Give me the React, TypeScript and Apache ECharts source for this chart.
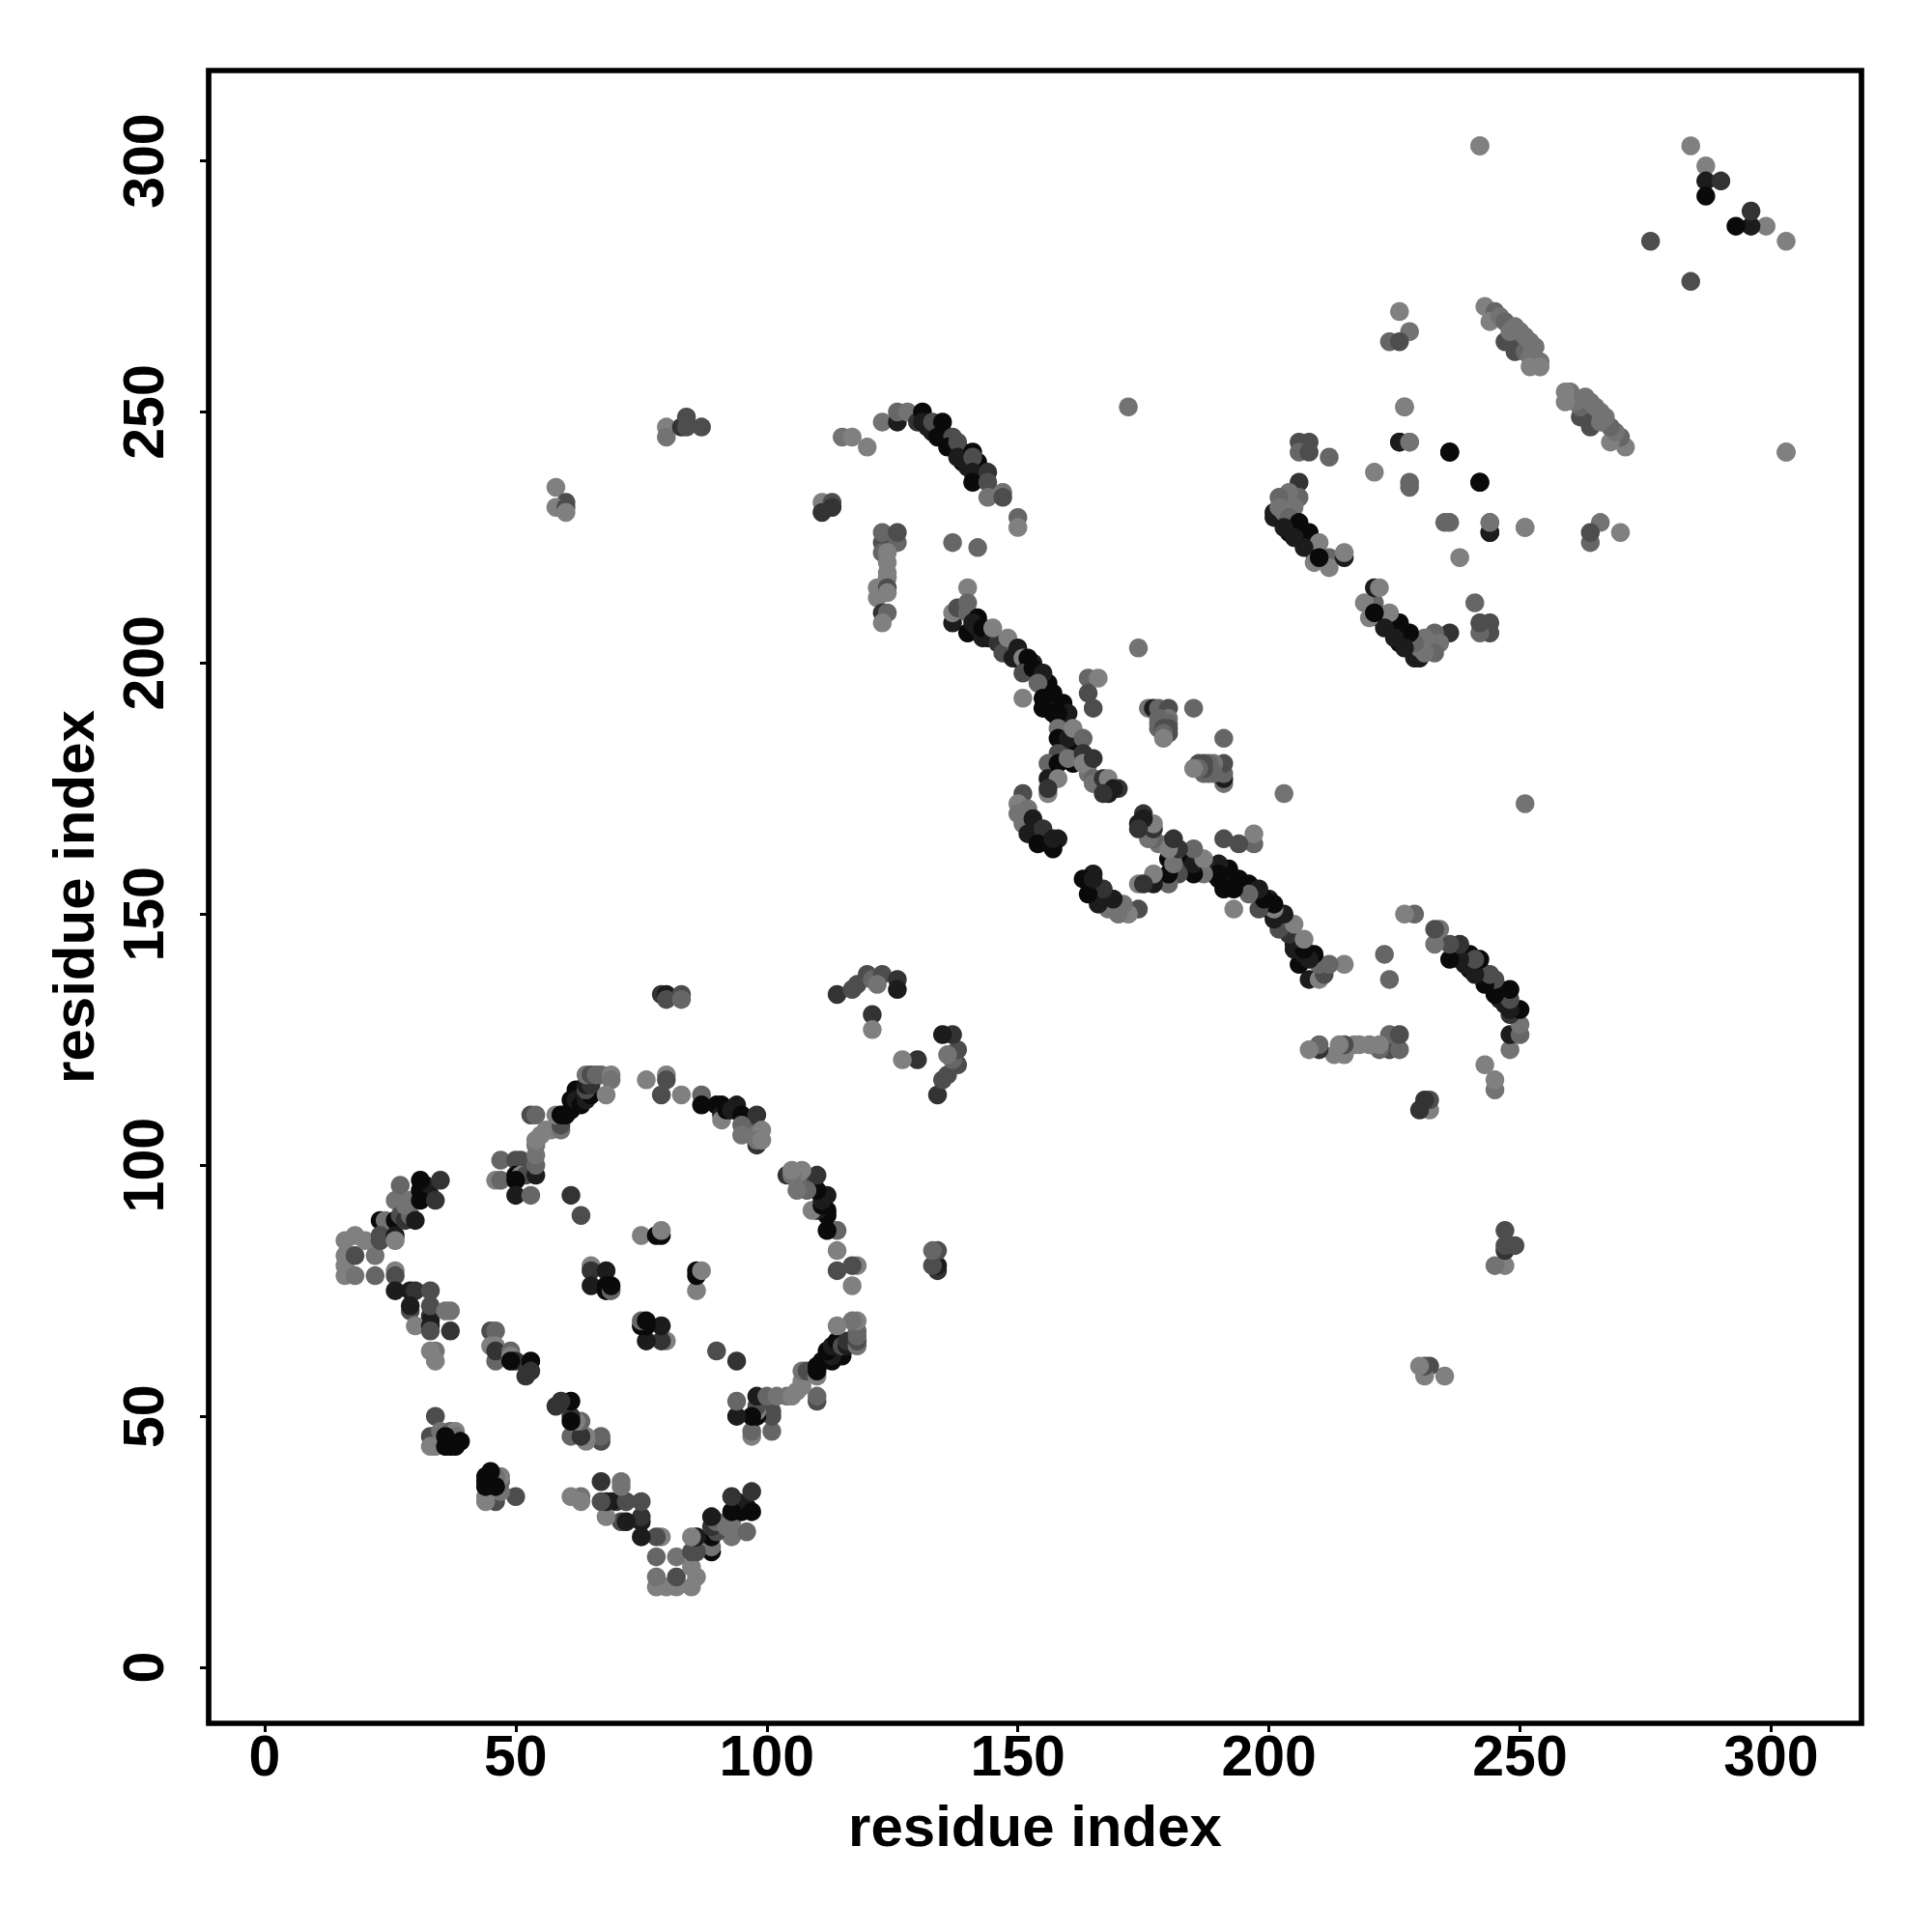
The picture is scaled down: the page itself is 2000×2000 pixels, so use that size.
import React, { useEffect, useRef } from "react";
import * as echarts from "echarts";

// [residue i, residue j, shade level]; the map is symmetric, each contact is listed once with i < j.
type Contact = [number, number, number];

const tickValues = [0, 50, 100, 150, 200, 250, 300];
const axisTitle = "residue index";
const shadeLevels = ["#0a0a0a", "#1c1c1c", "#333333", "#4d4d4d", "#666666", "#737373", "#808080"];

const ringLowerLeft: Contact[] = [
  [16,85,6],[16,82,6],[16,80,6],[16,78,6],[18,86,6],[18,82,3],[18,78,5],[20,85,6],[22,82,5],[22,78,4],
  [23,85,3],[23,89,0],[24,89,5],[23,86,3],[26,89,0],[26,86,1],[26,85,6],[26,93,5],[27,93,5],[27,90,3],[27,96,4],[29,93,5],
  [28,89,2],[29,90,4],[28,92,5],[32,96,1],[31,95,0],[33,94,1],
  [30,89,1],[31,93,0],[31,97,0],[34,93,2],[35,97,2],[26,79,6],[26,78,3],[26,75,1],[29,75,1],[30,75,2],[33,75,3],
  [29,71,3],[33,70,2],[33,69,1],
  [29,72,1],[33,72,3],[36,71,5],[37,71,5],[30,68,6],[33,68,1],[33,67,3],[37,67,2],[34,63,5],[33,63,6],[34,61,6],
  [34,50,3],[33,46,3],[33,44,6],[35,47,5],[37,47,4],[38,47,6],[34,44,6],[36,44,0],[38,44,0],[38,46,5],[37,44,0],[36,46,0],[39,45,0],
];
const ringMiddleBand: Contact[] = [
  [45,67,3],[46,67,4],[45,64,6],[46,64,6],[46,61,4],[46,63,2],[49,63,4],[49,62,6],[50,61,2],[49,61,0],[53,61,0],[53,59,2],[52,58,2],
];
const ringUpperLeft: Contact[] = [
  [46,97,6],[47,97,4],[47,101,4],[50,101,3],[51,101,3],[50,98,0],[51,98,6],[52,98,3],[50,97,0],[50,94,1],[53,94,4],[54,98,1],
  [54,100,4],[54,102,5],[54,104,5],[54,105,6],[53,110,3],[54,110,4],[55,106,6],[56,107,6],[57,107,6],[59,107,5],[59,108,3],
  [58,110,6],[59,110,0],[60,110,0],[61,111,0],[61,113,0],[62,115,0],[62,113,1],[63,112,0],[64,113,1],[64,114,1],[65,114,0],
  [64,115,3],[64,116,1],[65,116,2],[64,118,5],[65,118,3],[66,118,4],[67,118,4],[69,118,6],[69,117,5],[68,114,6],
];
const ringTop: Contact[] = [
  [76,117,6],[80,118,6],[80,117,3],[79,114,3],[83,114,6],[87,114,4],[87,112,0],[90,112,0],[91,112,0],[91,110,1],[91,109,6],
  [92,111,0],[93,111,1],[96,109,1],[97,108,3],[97,106,5],
  [94,112,1],[95,110,0],[98,110,2],[95,108,4],[95,106,5],[99,107,6],[98,104,2],[98,105,5],[99,105,6],
];
const ringInner: Contact[] = [
  [61,94,2],[63,90,3],[65,80,6],[65,79,2],[65,76,1],[68,79,1],[68,76,0],[68,75,0],[69,75,4],[69,76,0],
  [75,86,6],[78,86,0],[79,86,0],[79,87,6],
];
const farContacts: Contact[] = [
  [58,235,6],[60,232,3],[58,231,6],[60,231,3],[60,230,6],[80,247,6],[80,245,5],[83,247,2],[84,249,3],[84,247,3],[87,247,3],
  [79,134,2],[80,134,1],[80,133,3],[83,134,3],[83,133,4],
  [114,134,2],[117,135,3],[118,136,3],[120,138,3],[121,137,4],[123,138,3],[122,136,5],[126,137,2],[126,135,1],[121,130,2],[121,127,6],
  [111,232,6],[111,230,2],[113,232,3],[113,231,2],
];
const arcContacts: Contact[] = [
  [115,245,5],[117,245,6],[120,243,6],[123,248,5],[126,248,1],[126,250,4],[128,250,5],[130,248,2],[131,250,0],[131,248,1],
  [132,247,1],[133,246,1],[135,246,0],[136,245,2],[137,243,1],[138,242,0],[139,242,1],[139,240,0],[140,239,1],[142,238,2],[143,237,1],[142,240,0],
  [133,248,3],[135,248,0],[134,245,0],[137,245,3],[136,243,0],[138,244,3],[138,241,1],[141,242,0],[141,241,3],[141,238,1],
  [141,236,0],[144,238,2],[144,236,3],[144,233,5],[147,234,5],[147,233,3],[150,229,4],[150,227,6],[137,224,4],[142,223,4],
];
const columnContacts: Contact[] = [
  [123,224,3],[126,224,4],[123,222,4],[124,222,6],[124,220,6],[124,218,6],[124,217,6],[122,215,6],[122,213,6],[124,215,3],
  [124,214,6],[123,210,2],[124,210,4],[123,208,6],[123,226,4],[126,226,3],
];
const mainStrip: Contact[] = [
  [137,208,1],[137,210,6],[138,211,3],[140,215,6],[140,212,4],[140,210,4],[140,206,0],[142,209,0],[142,207,1],[143,205,1],[144,205,1],
  [141,208,1],[143,207,0],[145,205,1],[146,204,2],[148,203,1],[149,203,3],[150,202,0],[151,200,1],[153,200,1],[154,198,1],[156,196,0],[156,195,0],
  [157,192,0],[156,191,1],[157,190,0],[158,189,0],[159,189,1],[159,186,4],[160,186,0],[159,184,1],[161,184,2],[162,183,0],[162,181,5],
  [164,180,1],[164,178,5],[166,176,1],[168,175,0],[170,175,2],[168,174,1],
  [145,207,6],[147,203,2],[147,202,3],[148,205,6],[149,201,1],[150,203,1],[151,201,6],[152,201,0],[152,199,0],[151,198,3],
  [153,199,0],[155,198,1],[154,196,4],[157,194,0],[155,193,0],[155,191,0],[159,192,0],[160,190,1],[158,190,0],[151,193,6],
  [158,187,5],[158,185,0],[160,185,1],[161,187,6],[163,185,4],[158,182,3],[156,180,4],[158,180,0],[161,180,0],[160,181,5],
  [163,182,2],[163,180,6],[165,181,2],[165,177,4],[165,176,5],[167,177,2],[168,177,6],[169,175,1],[167,174,2],
  [156,177,1],[158,177,6],[156,174,6],[156,175,2],
];
const sideStrip: Contact[] = [
  [151,174,3],[150,172,6],[152,171,5],[150,170,5],[151,168,5],[153,169,1],[152,166,1],[155,167,2],[154,164,0],[158,165,1],[157,163,0],[157,165,1],
];
const midClusters: Contact[] = [
  [164,197,4],[166,197,6],[164,194,3],[165,191,3],[174,203,5],[176,191,5],[177,191,1],[178,191,4],[180,191,3],[185,191,4],
  [180,189,5],[178,189,4],[178,188,4],[180,188,4],[178,187,4],[179,187,3],[180,187,3],[180,186,3],[179,186,4],[179,185,6],[172,251,5],
];
const blockContacts: Contact[] = [
  [206,244,3],[208,244,3],[206,242,4],[208,242,3],[212,241,4],[206,236,2],[204,233,2],[206,233,4],[204,234,5],[202,233,4],
  [201,230,1],[201,229,1],[203,228,1],[204,226,0],[205,227,1],[206,225,0],[207,225,1],[208,223,1],[209,222,0],
  [203,230,5],[202,231,5],[205,231,5],[204,229,4],[206,228,0],[203,227,1],[208,226,0],[205,225,1],[210,224,6],[207,223,1],[209,220,6],
  [212,221,4],[212,219,6],[215,221,1],[215,222,6],[210,221,0],[221,238,6],[226,244,1],[228,244,5],[227,251,6],[228,236,4],
  [228,235,4],[236,242,0],[242,236,0],[244,226,1],[244,228,5],[251,227,6],[226,270,6],[228,266,5],[224,264,4],[226,264,3],
];
const stripeContacts: Contact[] = [
  [247,264,3],[249,264,3],[249,262,3],[251,262,4],
  [243,271,6],[245,270,4],[244,268,6],[246,269,5],[247,268,4],[248,266,5],[249,267,5],[250,266,5],
  [251,265,5],[252,264,5],[253,263,5],[252,261,5],[254,260,5],[253,260,5],[252,259,6],[254,259,6],
  [242,303,6],[303,242,6],
];
const farEndContacts: Contact[] = [
  [284,303,6],[287,299,6],[287,296,1],[290,296,2],[287,293,0],[276,284,3],
];

const contacts: Contact[] = [
  ...ringLowerLeft, ...ringMiddleBand, ...ringUpperLeft, ...ringTop, ...ringInner, ...farContacts, ...arcContacts,
  ...columnContacts, ...mainStrip, ...sideStrip, ...midClusters, ...blockContacts, ...stripeContacts, ...farEndContacts,
];

const font = "'Liberation Sans', Arial, sans-serif";

export default function App() {
  const ref = useRef<HTMLDivElement>(null);
  useEffect(() => {
    const chart = echarts.init(ref.current!, undefined, { renderer: "svg" });
    const data = contacts.flatMap(([i, j, s]) => [
      { value: [i, j], itemStyle: { color: shadeLevels[s] } },
      { value: [j, i], itemStyle: { color: shadeLevels[s] } },
    ]);
    const axisCommon = {
      type: "value" as const,
      min: -11.15,
      max: 318,
      name: axisTitle,
      nameLocation: "middle" as const,
      nameTextStyle: { fontFamily: font, fontWeight: "bold" as const, fontSize: 60, color: "#000" },
      splitLine: { show: false },
      axisLine: { show: false, onZero: false },
      axisTick: { show: true, length: 9, lineStyle: { color: "#000", width: 3 }, customValues: tickValues },
    };
    chart.setOption({
      animation: false,
      backgroundColor: "#fff",
      grid: { left: 216, right: 73, top: 73, bottom: 216, show: true, borderColor: "#000", borderWidth: 5.7, backgroundColor: "#fff" },
      xAxis: {
        ...axisCommon,
        nameGap: 76,
        axisLabel: { customValues: tickValues, fontFamily: font, fontWeight: "bold", fontSize: 59, color: "#000", margin: 4 },
      },
      yAxis: {
        ...axisCommon,
        nameGap: 110,
        axisLabel: { customValues: tickValues, rotate: 90, fontFamily: font, fontWeight: "bold", fontSize: 59, color: "#000", margin: 38, align: "center", verticalAlign: "bottom" },
      },
      series: [{ type: "scatter", symbol: "circle", symbolSize: 19.5, data, clip: false, itemStyle: { opacity: 1 } }],
    });
    return () => chart.dispose();
  }, []);
  return <div ref={ref} style={{ position: "absolute", left: 0, top: 0, width: 2000, height: 2000 }} />;
}
